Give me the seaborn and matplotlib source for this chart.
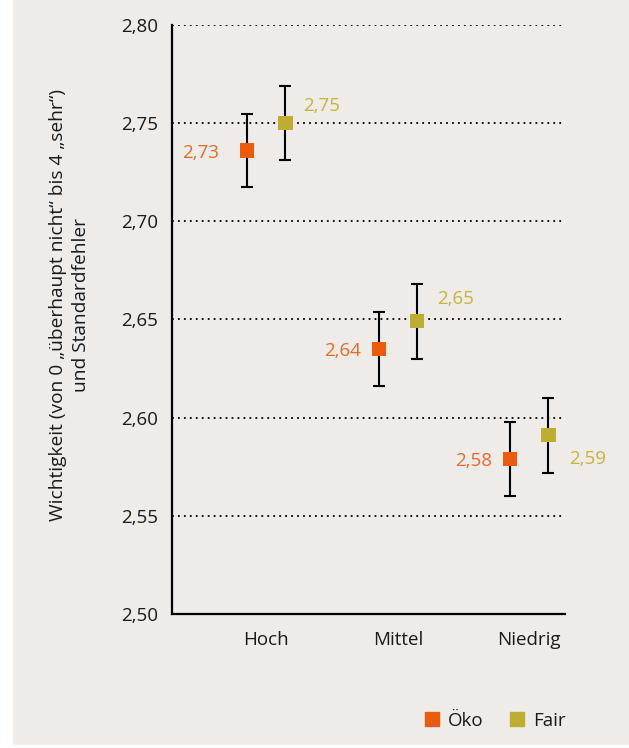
import pandas as pd
import numpy as np
import matplotlib
matplotlib.use("Agg")
import matplotlib.pyplot as plt
from matplotlib.lines import Line2D
from matplotlib.patches import Rectangle
import seaborn as sns

# Daten
gruppen = ["Hoch", "Mittel", "Niedrig"]
serien = ["Öko", "Fair"]
werte_oeko = [2.736, 2.635, 2.579]
werte_fair = [2.750, 2.649, 2.591]
se_oeko = [0.0187, 0.0187, 0.0187]
se_fair = [0.0190, 0.0190, 0.0190]
labels_oeko = ["2,73", "2,64", "2,58"]
labels_fair = ["2,75", "2,65", "2,59"]
yticks = [2.50, 2.55, 2.60, 2.65, 2.70, 2.75, 2.80]
ytick_labels = ["2,50", "2,55", "2,60", "2,65", "2,70", "2,75", "2,80"]

farben = {"Öko": "#EA5B0C", "Fair": "#BDAE33"}
textfarben = {"Öko": "#EC6A2A", "Fair": "#C4B440"}
dodge = {"Öko": -0.145, "Fair": 0.145}
# Label-Versatz in Pixeln (dx, dy) pro Punkt
offs = {"Öko": [(-28, -3), (-18, -2), (-18, -2)],
        "Fair": [(18, 17), (20, 22), (21, -24)]}

df = pd.DataFrame({
    "Gruppe": gruppen * 2,
    "Serie": ["Öko"] * 3 + ["Fair"] * 3,
    "Wert": werte_oeko + werte_fair,
    "SE": se_oeko + se_fair,
    "Label": labels_oeko + labels_fair,
})
df["x"] = df["Gruppe"].map({g: i for i, g in enumerate(gruppen)}) + df["Serie"].map(dodge)

sns.set_style("white")
plt.rcParams["font.family"] = ["Open Sans", "DejaVu Sans"]
plt.rcParams["text.color"] = "#1a1a1a"
plt.rcParams["xtick.color"] = "#1a1a1a"
plt.rcParams["ytick.color"] = "#1a1a1a"
plt.rcParams["axes.labelcolor"] = "#1a1a1a"
bg = "#EEEBE8"

fig = plt.figure(figsize=(6.29, 7.48), dpi=100, facecolor=bg)
ax = fig.add_axes([0.273, 0.179, 0.625, 0.788])
ax.set_facecolor(bg)
# weisser Rand links/unten wie im Original
fig.patches.append(Rectangle((0, 0), 12 / 629, 1, transform=fig.transFigure, color="white", zorder=0))
fig.patches.append(Rectangle((0, 0), 1, 3 / 748, transform=fig.transFigure, color="white", zorder=0))

for y in yticks[1:]:
    ax.axhline(y, color="black", lw=1.3, ls=(0, (1, 2.3)), zorder=1)

for s in serien:
    d = df[df["Serie"] == s]
    ax.errorbar(d["x"], d["Wert"], yerr=d["SE"], fmt="none", ecolor="black",
                elinewidth=1.5, capsize=4, capthick=1.5, zorder=2)

sns.scatterplot(data=df, x="x", y="Wert", hue="Serie", palette=farben, marker="s",
                s=105, linewidth=0, ax=ax, legend=False, zorder=3)

for s in serien:
    d = df[df["Serie"] == s].reset_index(drop=True)
    for i, r in d.iterrows():
        dx, dy = offs[s][i]
        ax.annotate(r["Label"], (r["x"], r["Wert"]), xytext=(dx, dy), textcoords="offset pixels",
                    ha="right" if s == "Öko" else "left", va="center",
                    color=textfarben[s], fontsize=13.5)

ax.set_xlim(-0.72, 2.27)
ax.set_ylim(2.50, 2.80)
ax.set_xticks(range(len(gruppen)))
ax.set_xticklabels(gruppen, fontsize=13.5)
ax.set_yticks(yticks)
ax.set_yticklabels(ytick_labels, fontsize=13.5)
ax.tick_params(length=0, pad=10)
ax.tick_params(axis="x", pad=12)
ax.set_xlabel("")
ax.set_ylabel("Wichtigkeit (von 0 „überhaupt nicht“ bis 4 „sehr“)\nund Standardfehler",
              fontsize=13.8, linespacing=1.35)
ax.yaxis.set_label_coords(-0.207, 0.525)
for sp in ["top", "right"]:
    ax.spines[sp].set_visible(False)
for sp in ["left", "bottom"]:
    ax.spines[sp].set_color("black")
    ax.spines[sp].set_linewidth(1.6)

handles = [Line2D([], [], marker="s", ls="none", color=farben[s], markersize=10) for s in serien]
fig.legend(handles, serien, loc="center right", bbox_to_anchor=(566 / 629, 1 - 721 / 748),
           ncol=2, frameon=False, fontsize=13.5, handlelength=0.8, handletextpad=0.45,
           columnspacing=1.4, borderpad=0, borderaxespad=0)

fig.savefig("out.png", dpi=100, facecolor=bg)
